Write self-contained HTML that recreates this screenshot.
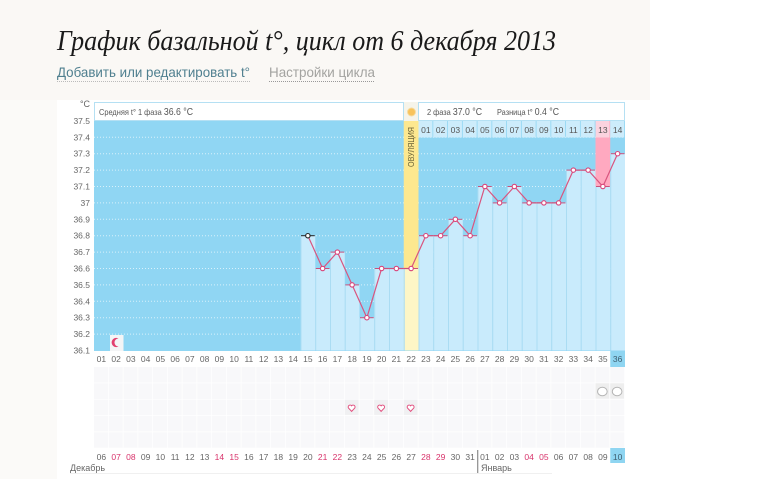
<!DOCTYPE html>
<html lang="ru">
<head>
<meta charset="utf-8">
<title>График базальной t°</title>
<style>
html,body{margin:0;padding:0;background:#fff;width:770px;height:479px;overflow:hidden}
svg{display:block}
text{font-family:"Liberation Sans","DejaVu Sans",sans-serif}
</style>
</head>
<body>
<svg id="chart" xmlns="http://www.w3.org/2000/svg" width="770" height="479" viewBox="0 0 770 479">
  <rect x="0" y="0" width="650" height="100" fill="#faf8f5"/>
  <rect x="0" y="100" width="57" height="379" fill="#fbfaf8"/>
  <text x="57" y="50" textLength="499" lengthAdjust="spacingAndGlyphs" style="font-family:'Liberation Serif','DejaVu Serif',serif;font-style:italic;font-size:28px" fill="#1a1a1a">График базальной t°, цикл от 6 декабря 2013</text>
  <text x="57" y="77" textLength="193" lengthAdjust="spacingAndGlyphs" font-size="14" fill="#4f7f8f">Добавить или редактировать t°</text>
  <line x1="57" y1="81.5" x2="250" y2="81.5" stroke="#bbb" stroke-dasharray="1 1"/>
  <text x="269" y="77" textLength="106" lengthAdjust="spacingAndGlyphs" font-size="14" fill="#a3a3a0">Настройки цикла</text>
  <line x1="269" y1="81.5" x2="375" y2="81.5" stroke="#999" stroke-dasharray="1 1"/>

  <g id="grid-cells"></g>
  <rect x="94" y="121" width="531" height="230" fill="#90d6f3"/>
  <g id="grid-lines"></g>
  <g id="bars"></g>
  <g id="y-ticks"></g>
  <text x="85" y="107" font-size="9" fill="#666" text-anchor="middle">°C</text>

  <rect x="94.5" y="102.5" width="309" height="18" fill="#fff" stroke="#b5e0f3"/>
  <text x="99" y="115" font-size="8.5" fill="#555" textLength="94" lengthAdjust="spacingAndGlyphs">Средняя t° 1 фаза <tspan font-size="10">36.6 °C</tspan></text>
  <rect x="404" y="102" width="14" height="19" fill="#f6f4ea"/>
  <circle cx="411.5" cy="112" r="4" fill="#f8c35c" stroke="#f6dca0"/>
  <rect x="418.5" y="102.5" width="206" height="18" fill="#fff" stroke="#b5e0f3"/>
  <text x="427" y="115" font-size="8.5" fill="#555" textLength="55" lengthAdjust="spacingAndGlyphs">2 фаза <tspan font-size="10">37.0 °C</tspan></text>
  <text x="497" y="115" font-size="8.5" fill="#555" textLength="62" lengthAdjust="spacingAndGlyphs">Разница t° <tspan font-size="10">0.4 °C</tspan></text>

  <rect x="110" y="335" width="13.5" height="16" fill="#f4f5f6"/>
  <path d="M118.5 338.5a4.6 4.6 0 1 0 0 8a3.8 3.8 0 0 1 0-8z" fill="#e2406f"/>

  <g id="phase-labels"></g>
  <g id="series"></g>
  <g id="cycle-labels"></g>
  <g id="date-labels"></g>
  <g id="markers"></g>

  <line x1="70" y1="473.5" x2="552" y2="473.5" stroke="#f0f0f0"/>
  <text x="70" y="471" font-size="9" fill="#666">Декабрь</text>
  <line x1="477.7" y1="450" x2="477.7" y2="473" stroke="#8c8c8c" stroke-width="1.2"/>
  <text x="481" y="471" font-size="9" fill="#666">Январь</text>
</svg>
<script>
var cycleDays = [15,16,17,18,19,20,21,22,23,24,25,26,27,28,29,30,31,32,33,34,35,36];
var temperatures = [36.8,36.6,36.7,36.5,36.3,36.6,36.6,36.6,36.8,36.8,36.9,36.8,37.1,37.0,37.1,37.0,37.0,37.0,37.2,37.2,37.1,37.3];
var yTicks = ["37.5","37.4","37.3","37.2","37.1","37","36.9","36.8","36.7","36.6","36.5","36.4","36.3","36.2","36.1"];
var calendarDates = ["06","07","08","09","10","11","12","13","14","15","16","17","18","19","20","21","22","23","24","25","26","27","28","29","30","31","01","02","03","04","05","06","07","08","09","10"];
var weekendDates = [2,3,9,10,16,17,23,24,30,31];
var phase2Labels = ["01","02","03","04","05","06","07","08","09","10","11","12","13","14"];
var heartDays = [18,20,22];
var noteDays = [35,36];
var ovulationDay = 22;
var highlightDay = 35;
var totalDays = 36;

var NS = "http://www.w3.org/2000/svg";
function make(tag, parent, attrs, txt) {
  var el = document.createElementNS(NS, tag);
  for (var k in attrs) { el.setAttribute(k, attrs[k]); }
  if (txt !== undefined) { el.textContent = txt; }
  document.getElementById(parent).appendChild(el);
  return el;
}
var colW = 531 / totalDays;
function xLeft(day) { return 94 + (day - 1) * colW; }
function xMid(day) { return xLeft(day) + colW / 2; }
function yPos(v) { return 350.5 - (v - 36.1) * 164; }
function dd(n) { return (n < 10 ? "0" : "") + n; }

yTicks.forEach(function (t) {
  var v = parseFloat(t);
  if (v < 37.5 && v > 36.1) {
    var g = make("line", "grid-lines", {x1: 94, x2: 625, y1: yPos(v), y2: yPos(v), stroke: "#d8f1fb", "stroke-dasharray": "1 2"});
    
    
  }
  var l = make("text", "y-ticks", {x: 90, y: yPos(v) + 3, "font-size": 8.5, fill: "#666", "text-anchor": "end"}, t);
  
  
});

for (var r = 0; r < 5; r++) {
  for (var c = 1; c <= totalDays; c++) {
    var cell = make("rect", "grid-cells", {x: xLeft(c), y: 367 + r * 16.3, width: colW - 0.7, height: 15.6, fill: "#f8f8fa"});
    
    
  }
}

cycleDays.forEach(function (d, i) {
  var y = yPos(temperatures[i]);
  var isOv = d === ovulationDay;
  if (isOv) {
    var top = make("rect", "bars", {x: xLeft(d), y: 121, width: colW, height: y - 121, fill: "#fde88f"});
    
    
  }
  if (d === highlightDay) {
    var pink = make("rect", "bars", {x: xLeft(d), y: 121, width: colW, height: y - 121, fill: "#ffa9c0"});
    
    
  }
  var bar = make("rect", "bars", {x: xLeft(d), y: y, width: colW, height: 350.5 - y, fill: isOv ? "#fdf6c6" : "#c9ebfc"});
  
  
  var sep = make("line", "bars", {x1: xLeft(d) + 0.5, x2: xLeft(d) + 0.5, y1: y, y2: 350.5, stroke: "#aadcf3"});
  
  
});

var ovText = make("text", "bars", {x: 0, y: 0, "font-size": 8.5, fill: "#6b6236", "text-anchor": "end", textLength: 40, lengthAdjust: "spacingAndGlyphs", transform: "translate(" + (xMid(ovulationDay) + 3) + ",127) rotate(-90)"}, "ОВУЛЯЦИЯ");



phase2Labels.forEach(function (t, i) {
  var d = ovulationDay + 1 + i;
  var hl = d === highlightDay;
  var bg = make("rect", "phase-labels", {x: xLeft(d), y: 121, width: colW - 0.8, height: 16.5, fill: hl ? "#fbd3df" : "#cdecfb"});
  
  
  var lb = make("text", "phase-labels", {x: xMid(d), y: 133, "font-size": 8.5, fill: "#555", "text-anchor": "middle"}, t);
  
  
});

var pts = cycleDays.map(function (d, i) { return xMid(d) + "," + yPos(temperatures[i]); }).join(" ");
var line = make("polyline", "series", {points: pts, fill: "none", stroke: "#d9557f", "stroke-width": 1.2});


cycleDays.forEach(function (d, i) {
  var y = yPos(temperatures[i]);
  var first = i === 0;
  var tick = make("line", "series", {x1: xLeft(d) + 0.5, x2: xLeft(d) + colW - 0.5, y1: y, y2: y, stroke: first ? "#222" : "#c9517c", "stroke-width": 1});
  
  
  var p = make("circle", "series", {cx: xMid(d), cy: y, r: 2.2, fill: "#fff", stroke: first ? "#222" : "#d9457a", "stroke-width": 1.1});
  
  
});

for (var n = 1; n <= totalDays; n++) {
  var isLast = n === totalDays;
  if (isLast) {
    var cb = make("rect", "cycle-labels", {x: xLeft(n), y: 351, width: colW, height: 16, fill: "#8fd5f1"});
    
    
    var db = make("rect", "date-labels", {x: xLeft(n), y: 448, width: colW, height: 15, fill: "#8fd5f1"});
    
    
  }
  var cl = make("text", "cycle-labels", {x: xMid(n), y: 362, "font-size": 8.5, fill: isLast ? "#3f5f70" : "#666", "text-anchor": "middle"}, dd(n));
  
  
  var wk = weekendDates.indexOf(n) >= 0;
  var dl = make("text", "date-labels", {x: xMid(n), y: 460, "font-size": 8.5, fill: isLast ? "#3f5f70" : (wk ? "#d8336b" : "#666"), "text-anchor": "middle"}, calendarDates[n - 1]);
  
  
}

heartDays.forEach(function (d) {
  var hc = make("rect", "markers", {x: xLeft(d), y: 399.6, width: colW - 1, height: 15.3, fill: "#f0f0f2"});
  
  
  var cx = xMid(d) - 0.5, cy = 408;
  var h = make("path", "markers", {d: "M" + cx + " " + (cy + 3.4) + "l-3-3.2a1.9 1.9 0 0 1 3-2.4a1.9 1.9 0 0 1 3 2.4z", fill: "#fff", stroke: "#e2507f", "stroke-width": 1});
  
  
});

noteDays.forEach(function (d) {
  var nc = make("rect", "markers", {x: xLeft(d), y: 383.3, width: colW - 1, height: 15.3, fill: "#eeeeee"});
  
  
  var b = make("ellipse", "markers", {cx: xMid(d) - 0.5, cy: 391.5, rx: 4.8, ry: 4.3, fill: "#fff", stroke: "#b5b5b5", "stroke-width": 1});
  
  
});
</script>
</body>
</html>
